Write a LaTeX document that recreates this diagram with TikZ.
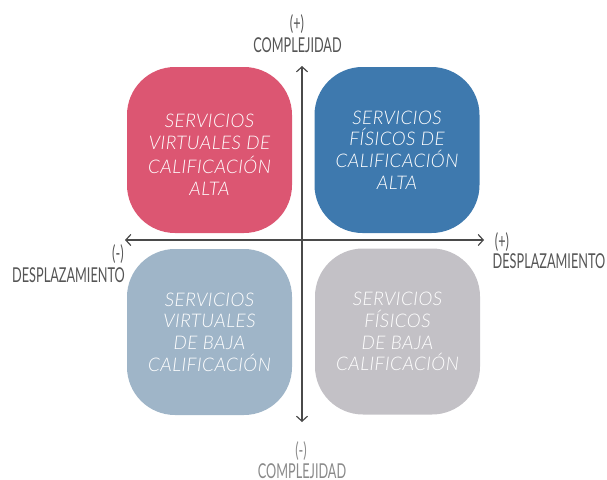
\documentclass[tikz,border=0pt]{standalone}
\usepackage{fontspec}
\newfontfamily\lblfont{Lato}[FakeStretch=0.62]
\newfontfamily\boxfont{Lato Light Italic}[LetterSpace=2.5]
\usetikzlibrary{arrows.meta}
\definecolor{cRed}{HTML}{DC5672}
\definecolor{cBlue}{HTML}{3E79AE}
\definecolor{cLBlue}{HTML}{9FB5C8}
\definecolor{cGrey}{HTML}{C3C1C6}
\definecolor{cAxis}{HTML}{4A4A4A}
\definecolor{cLbl}{HTML}{555555}
\definecolor{cLblLight}{HTML}{8A8A8A}
\tikzset{
  quad/.style={rectangle, rounded corners=48pt, minimum width=165pt, minimum height=166pt,
    inner sep=0pt, text=white, align=center, font=\boxfont\fontsize{18.8}{21.7}\selectfont},
  lbl/.style={inner sep=0pt, text=cLbl, font=\lblfont\fontsize{20.5}{22}\selectfont},
  axis/.style={draw=cAxis, line width=1.2pt, {Straight Barb[length=5pt,width=11pt]}-{Straight Barb[length=5pt,width=11pt]}}
}
\begin{document}
\begin{tikzpicture}[x=1pt,y=-1pt]
\useasboundingbox (0,0) rectangle (607,479);
\clip (0,0) rectangle (607,479);
% quadrants
\node[quad, fill=cRed]   (tl) at (209.5,150) {\raisebox{-11.5pt}[0pt][0pt]{\begin{tabular}{@{}c@{}}SERVICIOS\\VIRTUALES DE\\CALIFICACIÓN\\ALTA\end{tabular}}};
\node[quad, fill=cBlue]  (tr) at (397,150)   {SERVICIOS\\FÍSICOS DE\\CALIFICACIÓN\\ALTA};
\node[quad, fill=cLBlue] (bl) at (209.5,332) {SERVICIOS\\VIRTUALES\\DE BAJA\\CALIFICACIÓN};
\node[quad, fill=cGrey]  (br) at (397.5,331.5) {SERVICIOS\\FÍSICOS\\DE BAJA\\CALIFICACIÓN};
% axes
\coordinate (vtop) at (302,66);
\coordinate (vbot) at (302,422);
\coordinate (hleft) at (125,240);
\coordinate (hright) at (484,240);
\draw[axis] (vbot) -- (vtop);
\draw[axis] (hleft) -- (hright);
% labels
\node[lbl] (cplus) at (297,24) {(+)};
\node[lbl] (ctop) at (297.5,45.5) {COMPLEJIDAD};
\node[lbl, text=cLblLight] (cminus) at (301,451) {(-)};
\node[lbl, text=cLblLight] (cbot) at (302,471.3) {COMPLEJIDAD};
\node[lbl] (dminus) at (118,254) {(-)};
\node[lbl] (dleft) at (68.5,275) {DESPLAZAMIENTO};
\node[lbl] (dplus) at (502,242) {(+)};
\node[lbl] (dright) at (549,261.5) {DESPLAZAMIENTO};
\end{tikzpicture}
\end{document}
